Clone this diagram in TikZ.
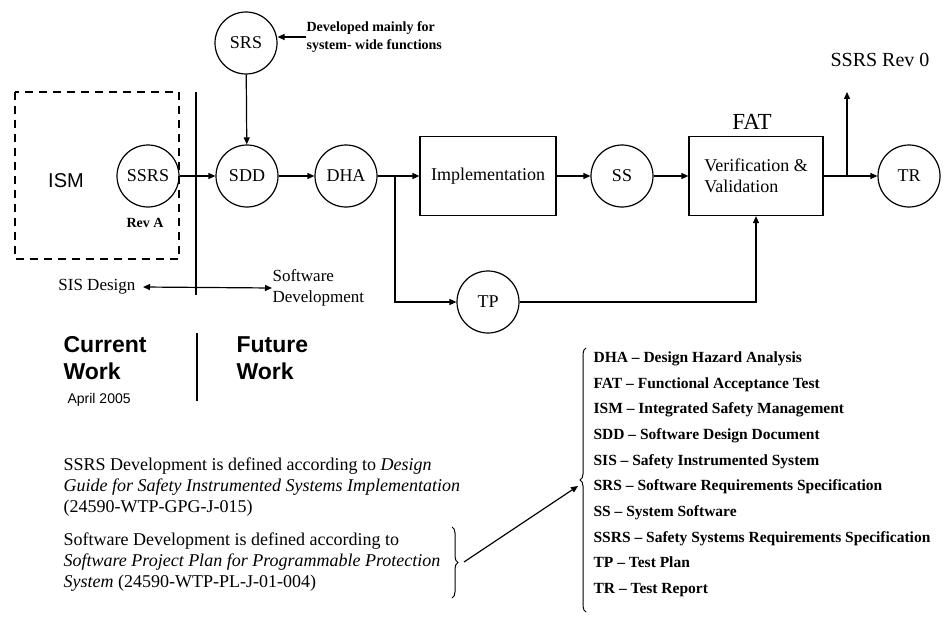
\documentclass[tikz,border=0pt]{standalone}
\usepackage{fontspec}
\setmainfont{Liberation Serif}
\setsansfont{Liberation Sans}
\usetikzlibrary{positioning,calc,arrows.meta,decorations.pathreplacing}

\begin{document}
\begin{tikzpicture}[x=1pt, y=-1pt, line width=1.2pt, >={Triangle[length=7pt,width=6pt]},
	doc/.style={circle, draw, minimum size=62pt, inner sep=0pt, font=\fontsize{18}{18}\selectfont},
	stage/.style={rectangle, draw, minimum height=79pt, inner sep=2pt, font=\fontsize{18}{21}\selectfont},
	lbl/.style={inner sep=0pt, font=\fontsize{17}{21}\selectfont},
	para/.style={inner sep=0pt, anchor=north west, align=left, font=\fontsize{18}{21}\selectfont},
	big/.style={inner sep=0pt, align=left, font=\sffamily\bfseries\fontsize{23}{27}\selectfont}]
	\useasboundingbox (0,0) rectangle (947,623);
	\draw[dashed, dash pattern=on 8pt off 6pt, line width=1.6pt] (15,92) rectangle (179,259);
	\draw (196,92) -- (196,295);
	\draw (197,333) -- (197,401);
	\node[inner sep=0pt, font=\sffamily\fontsize{20}{20}\selectfont] (ism) at (66,181) {ISM};
	\node[doc] (ssrs) at (148,176) {SSRS};
	\node[inner sep=0pt, font=\bfseries\fontsize{14}{14}\selectfont] (reva) at (145,223) {Rev A};
	\node[doc] (srs) at (246,43) {SRS};
	\node[doc] (sdd) at (247,176) {SDD};
	\node[doc] (dha) at (346,176) {DHA};
	\node[stage, minimum width=136pt] (impl) at (488,176) {Implementation};
	\node[doc] (ss) at (622,176) {SS};
	\node[stage, minimum width=134pt, align=left] (vv) at (756,176) {Verification \&\\Validation};
	\node[doc] (tr) at (909,176) {TR};
	\node[doc] (tp) at (488,302) {TP};
	\node[inner sep=0pt, font=\fontsize{23}{23}\selectfont] (fat) at (752,122) {FAT};
	\node[inner sep=0pt, font=\fontsize{20}{20}\selectfont] (rev0) at (880,60) {SSRS Rev 0};
	\node[anchor=west, inner sep=0pt, align=left, font=\bfseries\fontsize{14}{18}\selectfont] (note) at (306,37) {Developed mainly for\\system- wide functions};
	\coordinate (split) at (395,176);
	\coordinate (tap) at (847,176);
	\coordinate (up) at (847,92);
	\draw[->] (note.west) -- (note.west -| srs.east);
	\draw[->] (srs) -- (sdd);
	\draw[->] (ssrs) -- (sdd);
	\draw[->] (sdd) -- (dha);
	\draw[->] (dha) -- (impl);
	\draw[->] (split) |- (tp);
	\draw[->] (impl) -- (ss);
	\draw[->] (ss) -- (vv);
	\draw[->] (tp) -| (vv);
	\draw[->] (vv) -- (tr);
	\draw[->] (tap) -- (up);
	\node[lbl, anchor=east] (sis) at (136,287) {SIS Design};
	\node[lbl, anchor=west, align=left] (swdev) at (272,288) {Software\\Development};
	\draw[<->] (sis.east) ++(7,0) -- (swdev.west);
	\node[big, anchor=west] (current) at (63,358) {Current\\Work};
	\node[inner sep=0pt, anchor=west, font=\sffamily\fontsize{14}{14}\selectfont] (april) at (67,400) {April 2005};
	\node[big, anchor=west] (future) at (236,358) {Future\\Work};
	\node[para] (guide) at (63,457) {SSRS Development is defined according to \textit{Design}\\\textit{Guide for Safety Instrumented Systems Implementation}\\(24590-WTP-GPG-J-015)};
	\node[para] (plan) at (63,532) {Software Development is defined according to\\\textit{Software Project Plan for Programmable Protection}\\\textit{System} (24590-WTP-PL-J-01-004)};
	\draw[line width=1pt, decorate, decoration={brace, amplitude=6pt}] (452,527) -- (452,598);
	\draw[line width=1pt, decorate, decoration={brace, amplitude=6pt}] (586,612) -- (586,348);
	\coordinate (rtip) at (464,562);
	\coordinate (ltip) at (578,486);
	\draw[->] (rtip) -- (ltip);
	\node[inner sep=0pt, anchor=north west, align=left, font=\bfseries\fontsize{15.5}{25.7}\selectfont] (abbr) at (593,351) {%
		DHA -- Design Hazard Analysis\\
		FAT -- Functional Acceptance Test\\
		ISM -- Integrated Safety Management\\
		SDD -- Software Design Document\\
		SIS -- Safety Instrumented System\\
		SRS -- Software Requirements Specification\\
		SS -- System Software\\
		SSRS -- Safety Systems Requirements Specification\\
		TP -- Test Plan\\
		TR -- Test Report};
\end{tikzpicture}
\end{document}
